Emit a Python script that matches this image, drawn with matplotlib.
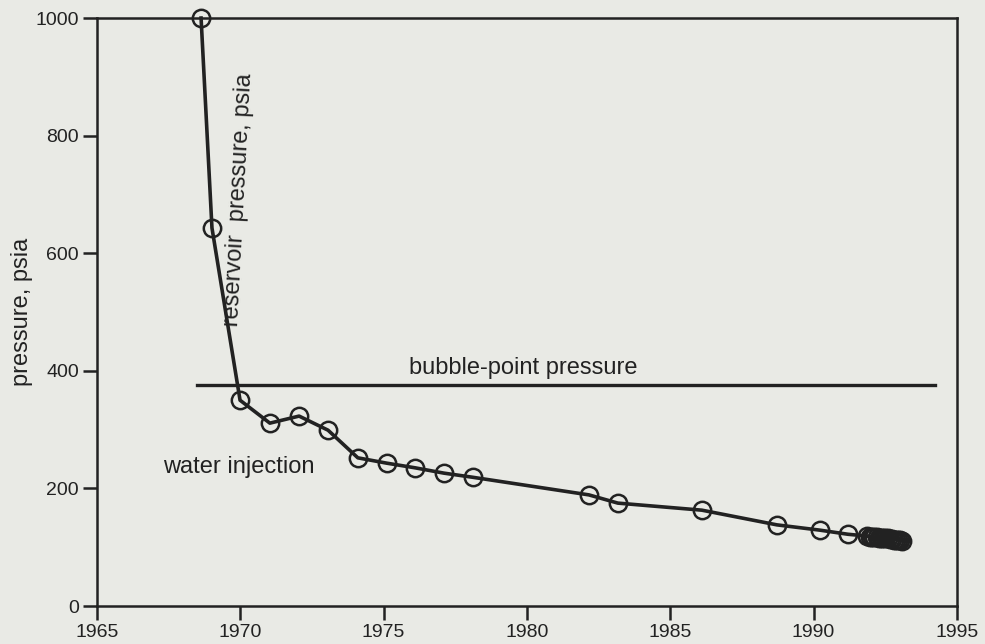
import matplotlib
matplotlib.use("Agg")
import matplotlib.pyplot as plt

# reservoir pressure history
years = [1968.63, 1969.01, 1969.99, 1971.03, 1972.05, 1973.06, 1974.1, 1975.1,
         1976.1, 1977.1, 1978.1, 1982.16, 1983.17, 1986.1, 1988.72, 1990.22,
         1991.2, 1991.86, 1991.95, 1992.05, 1992.12, 1992.2, 1992.28, 1992.35,
         1992.42, 1992.5, 1992.58, 1992.65, 1992.72, 1992.8, 1992.88, 1992.95,
         1993.02, 1993.1]
pressure = [1000, 643, 350, 311, 323, 299, 252, 243,
            235, 226, 219, 189, 175, 163, 138, 129,
            122, 119, 118, 118, 117, 117, 116, 116,
            116, 115, 115, 114, 114, 113, 113, 112,
            112, 111]

bubble_point = 376
bubble_span = [1968.5, 1994.25]

x_ticks = [1965, 1970, 1975, 1980, 1985, 1990, 1995]
y_ticks = [0, 200, 400, 600, 800, 1000]

BG = "#e9eae5"
INK = "#222222"

plt.rcParams["font.family"] = ["Liberation Sans", "DejaVu Sans"]

fig = plt.figure(figsize=(9.85, 6.44), dpi=100, facecolor=BG)
ax = fig.add_axes([0.0985, 0.059, 0.873, 0.913], facecolor=BG)

ax.plot(years, pressure, "-", color=INK, linewidth=2.6, marker="o",
        markersize=12.5, markerfacecolor="none", markeredgecolor=INK,
        markeredgewidth=1.8, clip_on=False, zorder=3)
ax.plot(bubble_span, [bubble_point, bubble_point], "-", color=INK,
        linewidth=2.4, zorder=2)

ax.text(1979.86, 404, "bubble-point pressure", fontsize=17, color=INK,
        ha="center", va="center")
ax.text(1967.3, 236, "water injection", fontsize=17, color=INK,
        ha="left", va="center")
ax.text(1969.95, 690, "reservoir  pressure, psia", fontsize=17, color=INK,
        ha="center", va="center", rotation=87)

ax.set_xlim(1965, 1995)
ax.set_ylim(0, 1000)
ax.set_xticks(x_ticks)
ax.set_yticks(y_ticks)
ax.tick_params(direction="out", length=10, width=1.8, colors=INK,
               labelsize=14, pad=3)
ax.set_ylabel("pressure, psia", fontsize=17, color=INK, labelpad=2)

for side in ["left", "bottom", "right", "top"]:
    ax.spines[side].set_linewidth(1.8)
    ax.spines[side].set_color(INK)

fig.savefig("out.png", dpi=100, facecolor=BG)
plt.close(fig)
